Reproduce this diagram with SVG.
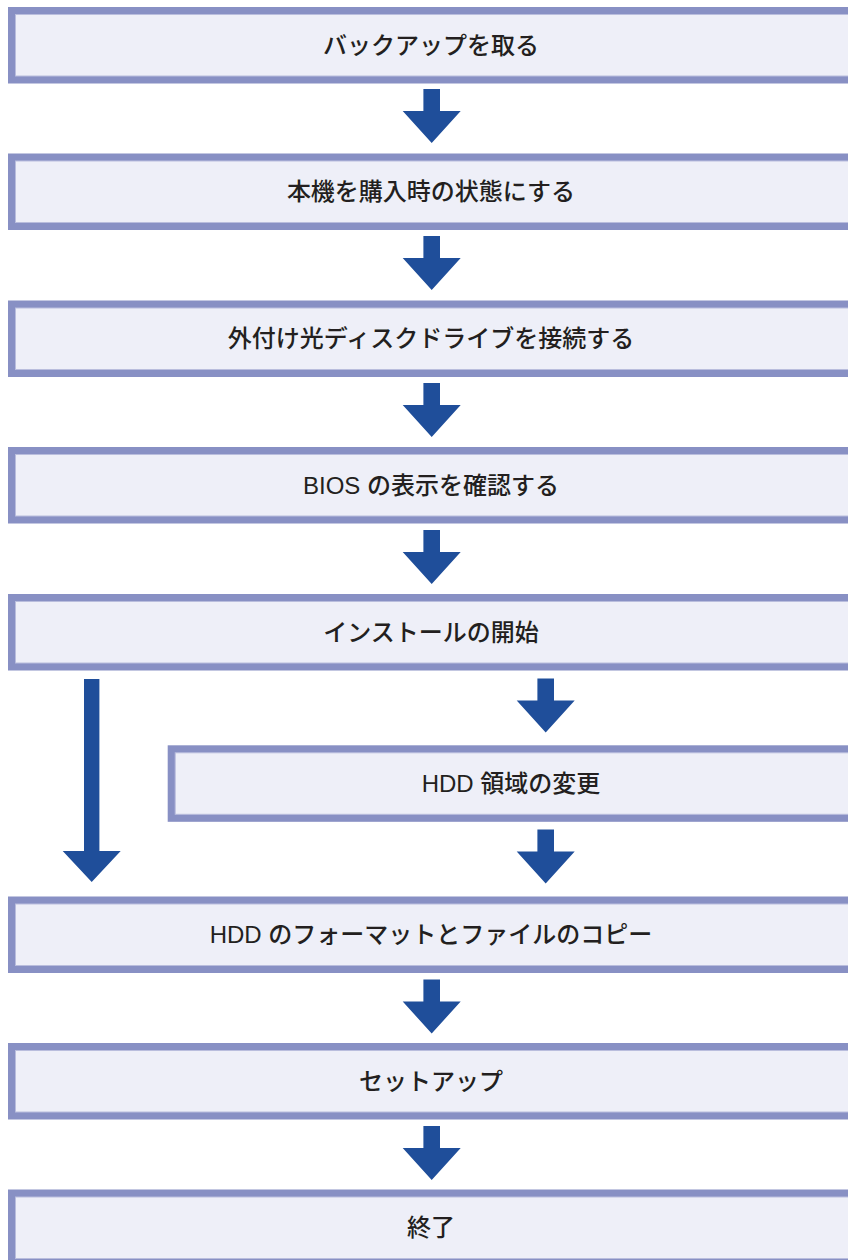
<svg xmlns="http://www.w3.org/2000/svg" width="848" height="1260" viewBox="0 0 848 1260">
<style>
.b{fill:#8890C4}
.f{fill:#EEEFF8;stroke:#B9BDDD;stroke-width:1}
.t{font-family:"Liberation Sans","Noto Sans CJK JP",sans-serif;font-size:24px;font-weight:500;fill:#231F20;text-anchor:middle}
.a{fill:#1F4E9A}
</style>
<defs>
<g id="box">
<rect class="b" x="0" y="0" width="860" height="76.5"/>
<rect class="f" x="7.5" y="7.5" width="860" height="61.5"/>
</g>
<path id="arr" d="M-8.3,0 H8.3 V22 H29 L0,54 L-29,22 H-8.3 Z"/>
</defs>
<g id="n1"><use href="#box" x="8" y="7"/><text class="t" x="431" y="53.5">バックアップを取る</text></g>
<g id="n2"><use href="#box" x="8" y="153.5"/><text class="t" x="431" y="200">本機を購入時の状態にする</text></g>
<g id="n3"><use href="#box" x="8" y="300.5"/><text class="t" x="431" y="347">外付け光ディスクドライブを接続する</text></g>
<g id="n4"><use href="#box" x="8" y="447"/><text class="t" x="431" y="493.5">BIOS の表示を確認する</text></g>
<g id="n5"><use href="#box" x="8" y="594"/><text class="t" x="431" y="640.5">インストールの開始</text></g>
<g id="n6"><use href="#box" x="167.7" y="745.3"/><text class="t" x="511" y="792">HDD 領域の変更</text></g>
<g id="n7"><use href="#box" x="8" y="896.5"/><text class="t" x="431" y="943">HDD のフォーマットとファイルのコピー</text></g>
<g id="n8"><use href="#box" x="8" y="1043"/><text class="t" x="431" y="1089.5">セットアップ</text></g>
<g id="n9"><use href="#box" x="8" y="1189.5"/><text class="t" x="431" y="1236">終了</text></g>
<g id="connectors" class="a">
<use href="#arr" x="431.7" y="89"/>
<use href="#arr" x="431.7" y="236"/>
<use href="#arr" x="431.7" y="383"/>
<use href="#arr" x="431.7" y="530"/>
<use href="#arr" x="545.7" y="678.5"/>
<use href="#arr" x="545.7" y="829.5"/>
<use href="#arr" x="431.7" y="979.5"/>
<use href="#arr" x="431.7" y="1126"/>
<path d="M84,679 H99.4 V851 H120.7 L91.7,882 L62.7,851 H84 Z"/>
</g>
</svg>
